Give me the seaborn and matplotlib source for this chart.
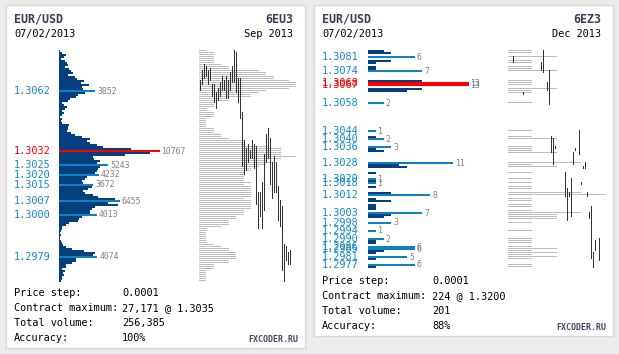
import numpy as np
import pandas as pd
import matplotlib
matplotlib.use("Agg")
import matplotlib.pyplot as plt
import matplotlib.transforms as mtransforms
import seaborn as sns

# ---------------- 6EU3 / Sep 2013 (left card) ----------------
sep_levels = np.arange(13082, 12966, -1) / 10000  # price rows, top to bottom
sep_volume = [110, 320, 750, 530, 210, 640, 850, 960, 640, 1070,
              1280, 1490, 960, 1710, 1920, 2670, 2350, 3200, 2450, 2560,
              2990, 2770, 2030, 1810, 1170, 960, 320, 530, 850, 640,
              320, 530, 320, 110, 320, 210, 320, 1070, 960, 960,
              850, 1280, 1710, 2450, 3300, 2990, 3300, 4050, 4690, 7680,
              9590, 9700, 7040, 3620, 3730, 4370, 4050, 4800, 4370, 4160,
              4050, 3840, 3730, 2990, 2770, 2450, 2560, 3200, 3520, 3090,
              2560, 2770, 3620, 4160, 5970, 5860, 5220, 6290, 3840, 3520,
              3300, 3300, 3730, 2450, 2130, 2030, 1070, 750, 320, 320,
              210, 110, 210, 110, 110, 210, 320, 430, 750, 1390,
              2670, 3840, 3620, 3730, 1810, 1810, 1390, 750, 750, 320,
              640, 430, 530, 320, 320, 210]
sep_key_price = [1.3062, 1.3032, 1.3025, 1.3020, 1.3015, 1.3007, 1.3000, 1.2979]
sep_key_volume = [3852, 10767, 5243, 4232, 3672, 6455, 4013, 4074]
sep_max_price = [1.3032]
sep_profile = [1, 2, 2, 2, 2, 2, 2, 3, 4, 4, 8, 9, 9, 10, 10, 12, 13, 13, 13, 12,
               9, 8, 7, 7, 4, 4, 2, 2, 2, 1, 1, 2, 2, 2, 1, 1, 1, 1, 1, 2,
               2, 2, 3, 3, 4, 6, 6, 6, 9, 11, 11, 11, 11, 13, 11, 9, 10, 9, 8, 7,
               7, 6, 6, 6, 6, 6, 7, 6, 7, 7, 7, 7, 7, 7, 6, 7, 7, 7, 7, 7,
               6, 6, 6, 5, 5, 4, 4, 4, 3, 1, 1, 1, 1, 1, 1, 1, 1, 2, 3, 4,
               4, 5, 5, 5, 5, 4, 4, 2, 2, 2, 1, 1, 1, 1, 1, 1]
sep_slot = list(range(46))
sep_high = [1.3067, 1.3072, 1.3075, 1.3074, 1.3072, 1.3073, 1.3065, 1.3065, 1.3061, 1.3063,
            1.3066, 1.3069, 1.3067, 1.3069, 1.3067, 1.3071, 1.3074, 1.3082, 1.3081, 1.3068,
            1.3068, 1.3051, 1.3037, 1.3033, 1.3035, 1.3032, 1.3037, 1.3035, 1.3034, 1.3011,
            1.3011, 1.3016, 1.3030, 1.3040, 1.3043, 1.3038, 1.3026, 1.3029, 1.3026, 1.3014,
            1.3007, 1.3004, 1.2985, 1.2984, 1.2981, 1.2982]
sep_low = [1.3063, 1.3066, 1.3069, 1.3070, 1.3066, 1.3068, 1.3060, 1.3057, 1.3054, 1.3058,
           1.3060, 1.3063, 1.3063, 1.3059, 1.3059, 1.3063, 1.3067, 1.3067, 1.3062, 1.3057,
           1.3049, 1.3025, 1.3021, 1.3023, 1.3027, 1.3029, 1.3029, 1.3024, 1.3006, 1.2994,
           1.3000, 1.2994, 1.3003, 1.3027, 1.3029, 1.3016, 1.3009, 1.3012, 1.3012, 1.2998,
           1.2995, 1.2973, 1.2967, 1.2978, 1.2976, 1.2976]
sep_header = ["EUR/USD", "07/02/2013", "6EU3", "Sep 2013"]
sep_stat_values = ["0.0001", "27,171 @ 1.3035", "256,385", "100%"]

# ---------------- 6EZ3 / Dec 2013 (right card) ----------------
dec_levels = np.arange(13084, 12975, -1) / 10000
dec_dark_price = [1.3084, 1.3083, 1.3079, 1.3078, 1.3076, 1.3075, 1.3069, 1.3065, 1.3064,
                  1.3041, 1.3035, 1.3034, 1.3027, 1.3026, 1.3023, 1.3019, 1.3016,
                  1.3013, 1.3010, 1.3009, 1.3007, 1.3006, 1.3005, 1.3002, 1.3001,
                  1.2989, 1.2988, 1.2984, 1.2983, 1.2980, 1.2976]
dec_dark_volume = [2, 3, 3, 1, 1, 1, 7, 7, 5,
                   1, 1, 2, 4, 5, 1, 1, 1,
                   3, 1, 3, 1, 1, 1, 3, 2,
                   1, 1, 2, 1, 1, 1]
dec_key_price = [1.3081, 1.3074, 1.3068, 1.3067, 1.3058, 1.3044, 1.3040, 1.3036, 1.3028, 1.3020,
                 1.3018, 1.3012, 1.3003, 1.2998, 1.2994, 1.2990, 1.2986, 1.2985, 1.2981, 1.2977]
dec_key_volume = [6, 7, 13, 13, 2, 1, 2, 3, 11, 1, 1, 8, 7, 3, 1, 2, 6, 6, 5, 6]
dec_max_price = [1.3068, 1.3067]
dec_profile_price = [1.3084, 1.3083, 1.3081, 1.3079, 1.3078, 1.3076, 1.3075, 1.3074, 1.3069, 1.3068,
                     1.3067, 1.3065, 1.3064, 1.3063, 1.3058, 1.3044, 1.3041, 1.3040, 1.3036, 1.3035,
                     1.3034, 1.3033, 1.3028, 1.3027, 1.3026, 1.3023, 1.3020, 1.3018, 1.3016, 1.3015,
                     1.3013, 1.3012, 1.3010, 1.3009, 1.3007, 1.3006, 1.3004, 1.3003, 1.3002, 1.3001,
                     1.3000, 1.2998, 1.2994, 1.2990, 1.2989, 1.2988, 1.2986, 1.2985, 1.2984, 1.2983,
                     1.2982, 1.2981, 1.2980, 1.2977, 1.2976]
dec_profile = [1, 1, 2, 1, 1, 1, 1, 2, 1, 1,
               1, 2, 1, 1, 1, 1, 1, 2, 1, 1,
               1, 2, 3, 1, 2, 1, 1, 1, 1, 1,
               3, 4, 1, 1, 1, 1, 1, 3, 2, 2,
               2, 1, 1, 1, 1, 1, 1, 2, 1, 2,
               1, 2, 1, 1, 1]
dec_slot = [2, 7, 16, 17, 19, 20, 21, 22, 23, 28, 29, 30, 31, 32, 33, 35, 36, 37, 38, 39, 40, 41, 42, 43, 45]
dec_high = [1.3081, 1.3063, 1.3078, 1.3084, 1.3068, 1.3074, 1.3041, 1.3040, 1.3036, 1.3023, 1.3015, 1.3013,
            1.3020, 1.3033, 1.3035, 1.3044, 1.3018, 1.3026, 1.3028, 1.3013, 1.3003, 1.3006, 1.2983, 1.2989, 1.2990]
dec_low = [1.3079, 1.3063, 1.3075, 1.3074, 1.3065, 1.3058, 1.3034, 1.3028, 1.3036, 1.3012, 1.3000, 1.3012,
           1.3002, 1.3028, 1.3035, 1.3033, 1.3018, 1.3026, 1.3026, 1.3012, 1.3001, 1.2981, 1.2975, 1.2985, 1.2980]
dec_header = ["EUR/USD", "07/02/2013", "6EZ3", "Dec 2013"]
dec_stat_values = ["0.0001", "224 @ 1.3200", "201", "88%"]

stat_names = ["Price step:", "Contract maximum:", "Total volume:", "Accuracy:"]

DARK = "#063f7d"
KEY = "#0a82c4"
LABEL = "#1788c8"
GREY = "#bdbdbd"
CANDLE = "#333333"
NAVY = "#3b3b5c"

sns.set_style("white")
plt.rcParams["font.family"] = ["DejaVu Sans Mono"]

W, H = 619, 354
fig = plt.figure(figsize=(W / 100, H / 100), dpi=100, facecolor="#ebebeb")


def box(x, y, w, h):
    return [x / W, 1 - (y + h) / H, w / W, h / H]


def clean(ax):
    ax.set_axis_off()
    ax.patch.set_visible(False)


def card(x0, card_h, levels, dark_p, dark_v, key_p, key_v, max_p, hist_x, hist_w, hist_max,
         prof_p, prof_v, prof_x, prof_max, slots, highs, lows, header, stat_values, stat_y0, val_x):
    # white card
    pa = fig.add_axes(box(x0, 5, 299, card_h))
    pa.set_xticks([])
    pa.set_yticks([])
    pa.set_facecolor("white")
    for s in pa.spines.values():
        s.set_color("#d8d8d8")
        s.set_linewidth(1)

    n = len(levels)
    lo, hi = levels.min() - 0.00005, levels.max() + 0.00005

    # volume histogram
    hist = pd.concat([
        pd.DataFrame({"price": dark_p, "volume": dark_v, "kind": "dark"}),
        pd.DataFrame({"price": key_p, "volume": key_v,
                      "kind": ["max" if p in max_p else "key" for p in key_p]}),
    ], ignore_index=True)
    ax = fig.add_axes(box(hist_x, 50, hist_w, 2 * n))
    sns.barplot(data=hist, x="volume", y="price", hue="kind", hue_order=["dark", "key", "max"],
                palette={"dark": DARK, "key": KEY, "max": "#ff0000"}, orient="y",
                native_scale=True, dodge=False, width=1.0, saturation=1, errorbar=None,
                legend=False, linewidth=0, antialiased=False, ax=ax)
    ax.set_xlim(0, hist_max)
    ax.set_ylim(lo, hi)
    clean(ax)

    lab_tr = mtransforms.blended_transform_factory(fig.transFigure, ax.transData)
    for p, v in zip(key_p, key_v):
        red = p in max_p
        fig.text((x0 + 8) / W, p, f"{p:.4f}", transform=lab_tr, ha="left", va="center",
                 fontsize=7.4, color="#ff0000" if red else LABEL)
        ax.annotate(f"{v}", (v, p), xytext=(1.6, 0), textcoords="offset points",
                    ha="left", va="center", fontsize=5.9, color="#808080")

    # side profile (grey lines)
    axp = fig.add_axes(box(prof_x, 50, 97, 2 * n))
    prof = pd.DataFrame({"price": np.array(prof_p) + 0.000025, "units": prof_v})
    sns.barplot(data=prof, x="units", y="price", orient="y", native_scale=True, width=0.5,
                color=GREY, saturation=1, errorbar=None, linewidth=0, antialiased=False, ax=axp)
    axp.set_xlim(0, prof_max)
    axp.set_ylim(lo, hi)
    clean(axp)

    # price range bars
    axc = fig.add_axes(box(prof_x, 50, 96, 2 * n))
    axc.vlines(slots, np.array(lows) - 0.00005, np.array(highs) + 0.00005, color=CANDLE,
               lw=0.68, antialiased=False)
    axc.set_xlim(-0.25, 47.75)
    axc.set_ylim(lo, hi)
    clean(axc)

    # header
    tx = (x0 + 8) / W
    rx = (x0 + 287) / W
    fig.text(tx, 1 - 19.5 / H, header[0], ha="left", va="center", fontsize=8.4,
             fontweight="bold", color=NAVY)
    fig.text(tx, 1 - 34 / H, header[1], ha="left", va="center", fontsize=7.4, color="black")
    fig.text(rx, 1 - 19.5 / H, header[2], ha="right", va="center", fontsize=8.4,
             fontweight="bold", color=NAVY)
    fig.text(rx, 1 - 34 / H, header[3], ha="right", va="center", fontsize=7.4, color="black")

    # footer statistics
    for i, (name, val) in enumerate(zip(stat_names, stat_values)):
        yy = 1 - (stat_y0 + 15 * i) / H
        fig.text(tx, yy, name, ha="left", va="center", fontsize=7.4, color="black")
        fig.text(val_x / W, yy, val, ha="left", va="center", fontsize=7.4, color="black")
    fig.text((x0 + 292) / W, 1 - (stat_y0 + 46) / H, "FXCODER.RU", ha="right", va="center",
             fontsize=6.0, fontweight="bold", color="#45455f")


card(6, 343, sep_levels, sep_levels, sep_volume, sep_key_price, sep_key_volume, sep_max_price,
     59, 150, 16000, sep_levels, sep_profile, 199, 13, sep_slot, sep_high, sep_low,
     sep_header, sep_stat_values, 293, 122)
card(314, 331, dec_levels, dec_dark_price, dec_dark_volume, dec_key_price, dec_key_volume,
     dec_max_price, 368, 155, 20, dec_profile_price, dec_profile, 508, 4, dec_slot, dec_high,
     dec_low, dec_header, dec_stat_values, 281, 432)

fig.savefig("out.png", dpi=100, facecolor=fig.get_facecolor())
